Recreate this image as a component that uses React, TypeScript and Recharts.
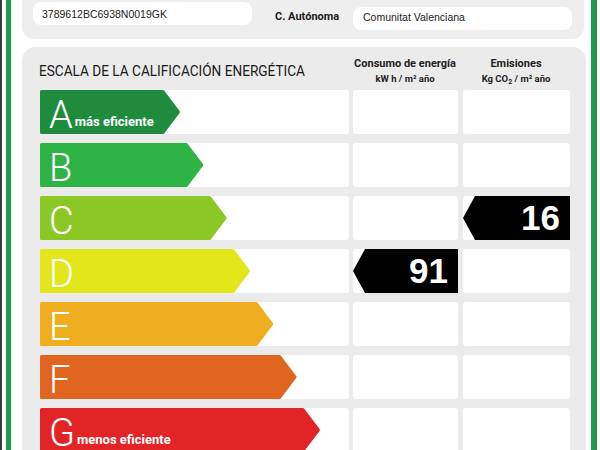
import { BarChart, Bar, XAxis, YAxis, Cell, LabelList } from "recharts"

// energy rating scale, A (best) to G (worst)
const categories = ["A", "B", "C", "D", "E", "F", "G"]
// arrow length in scale steps
const scaleSteps = [6, 7, 8, 9, 10, 11, 12]
const notes = ["más eficiente", "", "", "", "", "", "menos eficiente"]
// kWh/m² año, only the rated row has a value
const consumo = [0, 0, 0, 91, 0, 0, 0]
// kg CO2/m² año
const emisiones = [0, 0, 16, 0, 0, 0, 0]

const PALETTE = ["#1f8c3d", "#2eb345", "#8cc825", "#e3e61b", "#efae1f", "#e0661f", "#e32427"]

const rows = categories.map((cat, i) => ({
    cat,
    step: scaleSteps[i],
    note: notes[i],
    consumo: consumo[i],
    emisiones: emisiones[i],
}))

const ROW_H = 53
const CHART_TOP = 85
const CHART_H = ROW_H * categories.length

const Arrow = (props: any) => {
    const { x, y, width, height, fill, payload } = props
    const tip = 17
    const i = 1.5
    const pts = [
        [x + i, y + i],
        [x + width - tip, y + i],
        [x + width - i, y + height / 2],
        [x + width - tip, y + height - i],
        [x + i, y + height - i],
    ].map(p => p.join(",")).join(" ")
    return (
        <g>
            <polygon points={pts} fill={fill} stroke={fill} strokeWidth={3} strokeLinejoin="round" />
            <text x={x + 9} y={y + 38} fill="#fff" fontFamily="Roboto, sans-serif">
                <tspan fontSize={38} fontWeight={300}>{payload.cat}</tspan>
                {payload.note ? (
                    <tspan fontSize={13} fontWeight={700} dx={2} dy={-2}>{payload.note}</tspan>
                ) : null}
            </text>
        </g>
    )
}

const Pointer = (props: any) => {
    const { x, y, width, height } = props
    if (!width || width < 2) return null
    const pts = [
        [x, y + height / 2],
        [x + 12, y],
        [x + width, y],
        [x + width, y + height],
        [x + 12, y + height],
    ].map(p => p.join(",")).join(" ")
    return <polygon points={pts} fill="#000" />
}

function ValueColumn({ dataKey, left, width }: { dataKey: string; left: number; width: number }) {
    return (
        <div style={{ position: "absolute", left, top: CHART_TOP }}>
            <BarChart width={width} height={CHART_H} data={rows} layout="vertical"
                margin={{ top: 0, right: 0, bottom: 0, left: 0 }}>
                <XAxis type="number" hide domain={[0, "dataMax"]} />
                <YAxis type="category" dataKey="cat" hide />
                <Bar dataKey={dataKey} barSize={44} background={{ fill: "#fff", radius: 3 }}
                    shape={Pointer} isAnimationActive={false}>
                    <LabelList dataKey={dataKey} position="insideRight" offset={10}
                        formatter={(v: any) => (v ? v : "")}
                        fill="#fff" fontSize={35} fontWeight={700}
                        fontFamily="'Liberation Sans', Arial, sans-serif" />
                </Bar>
            </BarChart>
        </div>
    )
}

export default function App() {
    return (
        <div style={{ position: "absolute", left: 0, top: 0, width: 600, height: 450, overflow: "hidden", background: "#fff" }}>
            <svg width={600} height={450} style={{ position: "absolute", left: 0, top: 0 }}>
                <rect x={0} y={0} width={2} height={450} fill="#3a3a3a" />
                <rect x={6} y={0} width={5} height={450} fill="#1e9a4c" />
                <rect x={591} y={0} width={6} height={450} fill="#1e9a4c" />

                <rect x={22} y={-20} width={562} height={59} rx={12} fill="#eeeeee" />
                <rect x={33} y={2} width={219} height={23} rx={8} fill="#fff" />
                <rect x={353} y={7} width={219} height={23} rx={8} fill="#fff" />
                <text x={42} y={18} fontSize={10.5} fontFamily="'Liberation Sans', Arial, sans-serif" fill="#222">3789612BC6938N0019GK</text>
                <text x={275} y={20} fontSize={11} fontWeight={700} fontFamily="Roboto, sans-serif" fill="#222">C. Autónoma</text>
                <text x={363} y={21} fontSize={10.5} fontFamily="'Liberation Sans', Arial, sans-serif" fill="#222">Comunitat Valenciana</text>

                <rect x={22} y={47} width={564} height={430} rx={14} fill="#ebebeb" />
                <text x={39} y={76} fontSize={15.5} textLength={266} lengthAdjust="spacingAndGlyphs"
                    fontFamily="Roboto, sans-serif" fill="#1a1a1a">ESCALA DE LA CALIFICACIÓN ENERGÉTICA</text>
                <text x={405} y={67} textAnchor="middle" fontSize={11} fontWeight={700} fontFamily="Roboto, sans-serif" fill="#222">Consumo de energía</text>
                <text x={405} y={82} textAnchor="middle" fontSize={9.5} fontWeight={700} fontFamily="Roboto, sans-serif" fill="#222">kW h / m² año</text>
                <text x={516} y={67} textAnchor="middle" fontSize={11} fontWeight={700} fontFamily="Roboto, sans-serif" fill="#222">Emisiones</text>
                <text x={516} y={82} textAnchor="middle" fontSize={9.5} fontWeight={700} fontFamily="Roboto, sans-serif" fill="#222">
                    Kg CO<tspan fontSize={7} dy={2}>2</tspan><tspan dy={-2}> / m² año</tspan>
                </text>
            </svg>

            <div style={{ position: "absolute", left: 40, top: CHART_TOP }}>
                <BarChart width={309} height={CHART_H} data={rows} layout="vertical"
                    margin={{ top: 0, right: 0, bottom: 0, left: 0 }}>
                    <XAxis type="number" hide domain={[0, 13.25]} />
                    <YAxis type="category" dataKey="cat" hide />
                    <Bar dataKey="step" barSize={44} background={{ fill: "#fff", radius: 3 }}
                        shape={Arrow} isAnimationActive={false}>
                        {rows.map((r, i) => <Cell key={r.cat} fill={PALETTE[i]} />)}
                    </Bar>
                </BarChart>
            </div>

            <ValueColumn dataKey="consumo" left={353} width={105} />
            <ValueColumn dataKey="emisiones" left={463} width={107} />
        </div>
    )
}
